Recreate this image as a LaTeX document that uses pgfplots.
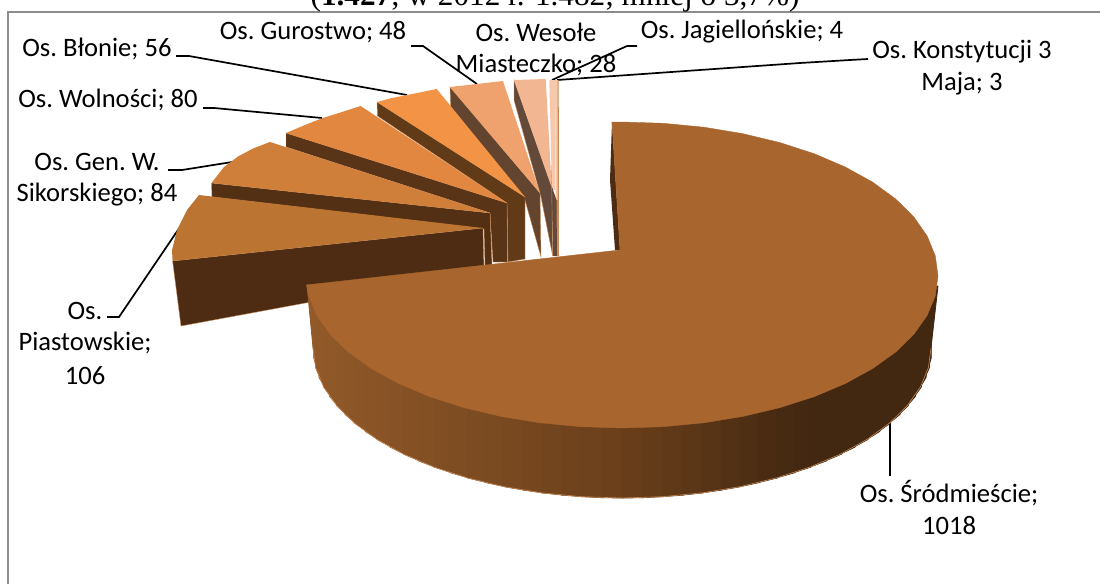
\documentclass[border=0pt]{standalone}
\usepackage{fontspec}
\setmainfont{Carlito}
\newfontfamily\titlefont{Liberation Serif}
\usepackage{pgfplots}
\pgfplotsset{compat=1.18}

\definecolor{frame}{HTML}{8C8C8C}
\definecolor{topA}{HTML}{A9652E}
\definecolor{topB}{HTML}{BC7433}
\definecolor{topC}{HTML}{CF7F3A}
\definecolor{topD}{HTML}{E2873F}
\definecolor{topE}{HTML}{F39345}
\definecolor{topF}{HTML}{F0A26E}
\definecolor{topG}{HTML}{F3B693}
\definecolor{topH}{HTML}{F6C9AC}
\definecolor{sideB}{HTML}{4D2C13}
\definecolor{sideC}{HTML}{532F14}
\definecolor{sideD}{HTML}{5A3416}
\definecolor{sideE}{HTML}{613A18}
\definecolor{sideF}{HTML}{63452F}
\definecolor{sideG}{HTML}{63493A}
\definecolor{rim}{HTML}{C98A55}

\pgfplotsset{
  colormap={sidegrad}{rgb255(0cm)=(147,90,41) rgb255(5cm)=(106,63,27) rgb255(8cm)=(66,39,17) rgb255(10cm)=(66,39,17)},
}
\tikzset{
  lead/.style={black, line width=0.85pt},
  lab/.style={align=center, anchor=center, inner sep=0pt, font=\fontsize{13.3}{16.25}\selectfont\frenchspacing},
}

\begin{document}
\begin{tikzpicture}
\path[use as bounding box] (0,0) rectangle (550pt,292pt);
\clip (0,0) rectangle (550pt,292pt);
\begin{axis}[
    at={(0,0)}, anchor=south west,
    scale only axis, width=550pt, height=292pt,
    xmin=0, xmax=1100, ymin=0, ymax=584, y dir=reverse,
    hide axis, clip=true,
    colormap name=sidegrad,
    point meta min=306, point meta max=938,
]
% frame of the chart area
\addplot[frame, line width=0.75pt] coordinates {(8,584) (8,12) (1100,12)};

% leader lines
\addplot[lead] coordinates {(557,80) (800,63) (850,60) (868,59)};
\addplot[lead] coordinates {(552,80) (627,46) (637,46)};
\addplot[lead] coordinates {(477,84) (423,46) (411,46)};
\addplot[lead] coordinates {(407,95) (189,56) (176,56)};
\addplot[lead] coordinates {(322,118) (214,108) (203,108)};
\addplot[lead] coordinates {(238.5,161) (182,170) (168,170)};
\addplot[lead] coordinates {(180,227) (119,317) (107,317)};
\addplot[lead] coordinates {(890,415) (890,476)};

% small slices, back to front
\addplot[fill=rim, draw=none] coordinates {(555.7,80) (558.7,80) (559,256) (556,256)} -- cycle;
\addplot[fill=topH, draw=none] coordinates {(555,80) (557.7,80) (557.7,200) (556,200)} -- cycle;
\addplot[fill=topH, draw=none] coordinates {(549.3,80) (555,80) (555.5,190) (552,190)} -- cycle;
\addplot[fill=sideG, draw=none] coordinates {(551,165) (552,187) (556.5,200) (557,256) (553,256)} -- cycle;

\addplot[fill=sideG, draw=rim, line width=0.2pt] coordinates {(514,80) (551.7,187) (552.7,256) (541,197) (514,100)} -- cycle;
\addplot[fill=topG, draw=none] coordinates {(514,80) (545.7,79) (551.7,187)} -- cycle;

\addplot[fill=sideF, draw=rim, line width=0.2pt] coordinates {(450,87) (540,193) (541,257) (525,200) (450.7,107)} -- cycle;
\addplot[fill=topF, draw=none] coordinates {(450,87) (503,81) (540,193)} -- cycle;

\addplot[fill=sideE, draw=rim, line width=0.2pt] coordinates {(377,102) (525,197) (525,259) (508,262) (507,203) (377.5,116)} -- cycle;
\addplot[fill=topE, draw=none] coordinates {(377,102) (392,98) (407,95) (422,92) (436.7,89) (525,197)} -- cycle;

\addplot[fill=sideD, draw=rim, line width=0.2pt] coordinates {(286,133) (507,203) (507.5,262) (493,262) (490,213) (286,147)} -- cycle;
\addplot[fill=topD, draw=none] coordinates {(286,133) (305,125) (322.7,118) (342,112) (360.6,106) (507,203)} -- cycle;

\addplot[fill=sideC, draw=rim, line width=0.2pt] coordinates {(211.5,183) (490,213) (492,265) (485,266) (484,229) (212,197)} -- cycle;
\addplot[fill=topC, draw=none] coordinates {(211.5,183) (224,167) (238,156.5) (253,148.5) (270,142) (490,213)} -- cycle;

\addplot[fill=sideB, draw=rim, line width=0.2pt] coordinates {(172.6,261) (483,228) (484,270) (181,326)} -- cycle;
\addplot[fill=topB, draw=none] coordinates {(172.6,261) (172,250) (177,230) (187,210) (199,195) (483,228)} -- cycle;

% main slice: dark sliver at the back edge
\addplot[fill=sideB, draw=none] coordinates {(612,122) (610,180) (615,250) (620,250)} -- cycle;

% main slice: side wall, quads along the lower rim
\addplot[patch, patch type=rectangle, shader=flat, point meta=x] coordinates {
 (307,285) (314.7,285) (314.7,357.8) (313,348)
 (313.7,286) (316.6,286) (316.6,367.6) (313.7,357.8)
 (315.6,286) (319.9,286) (319.9,377.3) (315.6,367.6)
 (318.9,286) (324.5,286) (324.5,386.8) (318.9,377.3)
 (323.5,286) (330.4,286) (330.4,396.2) (323.5,386.8)
 (329.4,286) (337.5,286) (337.5,405.4) (329.4,396.2)
 (336.5,286) (345.9,286) (345.9,414.3) (336.5,405.4)
 (344.9,286) (355.4,286) (355.4,423) (344.9,414.3)
 (354.4,286) (366.1,286) (366.1,431.3) (354.4,423)
 (365.1,286) (377.8,286) (377.8,439.3) (365.1,431.3)
 (376.8,286) (390.7,286) (390.7,446.9) (376.8,439.3)
 (389.7,286) (404.5,286) (404.5,454.1) (389.7,446.9)
 (403.5,286) (419.3,286) (419.3,460.8) (403.5,454.1)
 (418.3,286) (434.9,286) (434.9,467) (418.3,460.8)
 (433.9,286) (451.3,286) (451.3,472.7) (433.9,467)
 (450.3,286) (468.5,286) (468.5,477.9) (450.3,472.7)
 (467.5,286) (486.3,286) (486.3,482.5) (467.5,477.9)
 (485.3,286) (504.7,286) (504.7,486.6) (485.3,482.5)
 (503.7,286) (523.7,286) (523.7,490) (503.7,486.6)
 (522.7,286) (543,286) (543,492.9) (522.7,490)
 (542,286) (562.7,286) (562.7,495.1) (542,492.9)
 (561.7,286) (582.7,286) (582.7,496.7) (561.7,495.1)
 (581.7,286) (602.8,286) (602.8,497.7) (581.7,496.7)
 (601.8,286) (623,286) (623,498) (601.8,497.7)
 (622,286) (643.2,286) (643.2,497.7) (622,498)
 (642.2,286) (663.3,286) (663.3,496.7) (642.2,497.7)
 (662.3,286) (683.3,286) (683.3,495.1) (662.3,496.7)
 (682.3,286) (703,286) (703,492.9) (682.3,495.1)
 (702,286) (722.3,286) (722.3,490) (702,492.9)
 (721.3,286) (741.3,286) (741.3,486.6) (721.3,490)
 (740.3,286) (759.7,286) (759.7,482.5) (740.3,486.6)
 (758.7,286) (777.5,286) (777.5,477.9) (758.7,482.5)
 (776.5,286) (794.7,286) (794.7,472.7) (776.5,477.9)
 (793.7,286) (811.1,286) (811.1,467) (793.7,472.7)
 (810.1,286) (826.7,286) (826.7,460.8) (810.1,467)
 (825.7,286) (841.5,286) (841.5,454.1) (825.7,460.8)
 (840.5,286) (855.3,286) (855.3,446.9) (840.5,454.1)
 (854.3,286) (868.2,286) (868.2,439.3) (854.3,446.9)
 (867.2,286) (879.9,286) (879.9,431.3) (867.2,439.3)
 (878.9,286) (890.6,286) (890.6,423) (878.9,431.3)
 (889.6,286) (900.1,286) (900.1,414.3) (889.6,423)
 (899.1,286) (908.5,286) (908.5,405.4) (899.1,414.3)
 (907.5,286) (915.6,286) (915.6,396.2) (907.5,405.4)
 (914.6,286) (921.5,286) (921.5,386.8) (914.6,396.2)
 (920.5,286) (926.1,286) (926.1,377.3) (920.5,386.8)
 (925.1,286) (929.4,286) (929.4,367.6) (925.1,377.3)
 (928.4,286) (931.3,286) (931.3,357.8) (928.4,367.6)
 (930.3,286) (938,286) (931,348) (930.3,357.8)
};
% pale rim along the bottom edge of the wall
\addplot[rim, line width=0.3pt] coordinates {
 (313,348) (315.6,367.6) (323.5,386.8) (336.5,405.4) (354.4,423) (376.8,439.3)
 (403.5,454.1) (433.9,467) (467.5,477.9) (503.7,486.6) (542,492.9) (581.7,496.7)
 (622,498) (662.3,496.7) (702,492.9) (740.3,486.6) (776.5,477.9) (810.1,467)
 (840.5,454.1) (867.2,439.3) (889.6,423) (907.5,405.4) (920.5,386.8) (928.4,367.6) (931,348)
};

% main slice: top face
\addplot[fill=topA, draw=topA, line width=0.2pt] coordinates {
 (612,122) (622,122) (663.2,123.3) (703.8,127.2) (742.9,133.7) (780,142.6)
 (814.4,153.8) (845.4,167.1) (872.7,182.2) (895.7,199) (913.9,217.1)
 (927.2,236.1) (935.3,255.9) (938,276) (935.3,295.8) (927.2,315.3)
 (913.9,334.2) (895.7,352) (872.7,368.5) (845.4,383.5) (814.4,396.6)
 (780,407.6) (742.9,416.4) (703.8,422.8) (663.2,426.7) (622,428)
 (580.8,426.7) (540.2,422.8) (501.1,416.4) (464,407.6) (429.6,396.6)
 (398.6,383.5) (371.3,368.5) (348.3,352) (330.1,334.2) (316.8,315.3)
 (308.7,295.8) (306.5,285) (620,250)
} -- cycle;

% labels
\node[lab] at (axis cs:97,49) {Os. Błonie; 56};
\node[lab] at (axis cs:313,32) {Os. Gurostwo; 48};
\node[lab] at (axis cs:108,100) {Os. Wolności; 80};
\node[lab] at (axis cs:97,162) {Os. Gen. W.};
\node[lab] at (axis cs:97,195) {Sikorskiego; 84};
\node[lab] at (axis cs:85,311) {Os.};
\node[lab] at (axis cs:85,343) {Piastowskie;};
\node[lab] at (axis cs:85,376) {106};
\node[lab] at (axis cs:536,32) {Os. Wesołe};
\node[lab] at (axis cs:536,65) {Miasteczko; 28};
\node[lab] at (axis cs:742,32) {Os. Jagiellońskie; 4};
\node[lab] at (axis cs:962,52) {Os. Konstytucji 3};
\node[lab] at (axis cs:962,84) {Maja; 3};
\node[lab] at (axis cs:949,493) {Os. Śródmieście;};
\node[lab] at (axis cs:949,526) {1018};
\node[anchor=base, inner sep=0pt, font=\titlefont\fontsize{15.6}{18}\selectfont] at (axis cs:555,5) {(\textbf{1.427}; w 2012 r. 1.482; mniej o 3,7\%)};
\end{axis}
\end{tikzpicture}
\end{document}
